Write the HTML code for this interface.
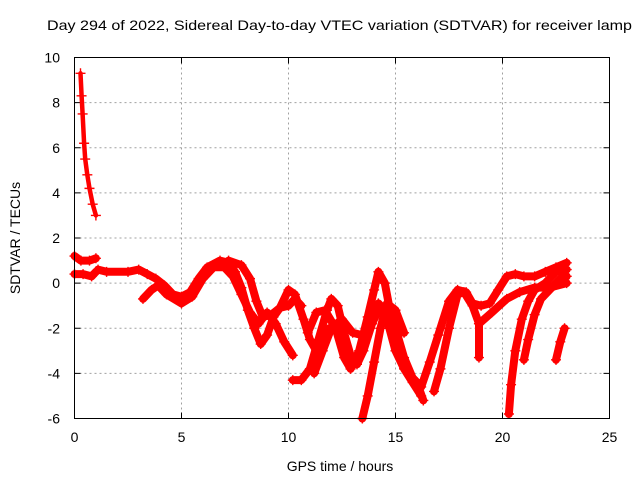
<!DOCTYPE html>
<html><head><meta charset="utf-8"><style>
body{margin:0;background:#fff}
svg{display:block;font-family:"Liberation Sans",sans-serif}
</style></head><body>
<svg id="chart" width="640" height="480">
<rect width="640" height="480" fill="#fff"/>
<text x="47" y="30" font-size="14" textLength="585" lengthAdjust="spacingAndGlyphs">Day 294 of 2022, Sidereal Day-to-day VTEC variation (SDTVAR) for receiver lamp</text>
<g id="grid"></g><g id="ticks"></g><g id="marks"></g>
<rect x="74.5" y="57.5" width="535" height="361" fill="none" stroke="#000" stroke-width="1"/>
<text x="340" y="471" font-size="14" text-anchor="middle">GPS time / hours</text>
<text transform="translate(20,238) rotate(-90)" font-size="14" text-anchor="middle">SDTVAR / TECUs</text>
</svg>
<script>
const xTicks=[0,5,10,15,20,25];
const yTicks=[-6,-4,-2,0,2,4,6,8,10];
const track1=[[0.28,9.3],[0.33,8.3],[0.38,7.5],[0.45,6.2],[0.5,5.5],[0.6,4.8],[0.7,4.2],[0.85,3.5],[1.0,3.0]];
const track2=[[0,1.2],[0.3,1.0],[0.7,1.0],[1.0,1.1]];
const track3=[[0,0.4],[0.4,0.4],[0.8,0.3],[1.0,0.5]];
const track4=[[1.1,0.6],[1.5,0.5],[2.5,0.5],[3.0,0.6],[3.4,0.4],[3.8,0.2],[4.2,-0.1],[4.6,-0.5],[5.0,-0.6],[5.4,-0.4],[5.8,0.2],[6.2,0.7],[6.8,1.0],[7.2,0.9],[7.5,0.5],[7.8,-0.2],[8.1,-1.2],[8.4,-2.0],[8.7,-2.7],[9.0,-2.3],[9.3,-1.5],[9.6,-1.1],[10.0,-1.0],[10.3,-0.7],[10.6,-1.0]];
const track5=[[3.2,-0.7],[3.6,-0.3],[3.9,-0.1],[4.3,-0.5],[5.0,-0.9],[5.5,-0.6],[6.0,0.2],[6.5,0.7],[7.0,0.7],[7.4,0.3],[7.8,-0.5],[8.2,-1.3],[8.6,-1.8],[9.0,-1.3],[9.4,-1.8],[9.8,-2.6],[10.2,-3.2]];
const track6=[[7.2,1.0],[7.8,0.8],[8.2,0.2],[8.5,-0.8],[8.8,-1.5],[9.2,-1.4],[9.6,-1.1],[10.0,-0.3],[10.3,-0.5],[10.7,-1.6],[11.0,-2.5],[11.3,-3.0],[11.6,-2.5],[11.9,-2.0]];
const track7=[[10.2,-4.3],[10.6,-4.3],[11.0,-3.8],[11.4,-2.5],[11.8,-1.2],[12.0,-0.7],[12.3,-1.0],[12.6,-2.2],[12.9,-3.2],[13.2,-3.6],[13.5,-3.0],[13.9,-1.8],[14.2,-0.9],[14.6,-1.3],[15.0,-2.0],[15.4,-3.3],[15.8,-4.2],[16.2,-4.6],[16.6,-3.5],[17.0,-2.3],[17.5,-0.8],[17.9,-0.3],[18.3,-0.4],[18.6,-0.9],[19.0,-1.0],[19.4,-0.9],[19.8,-0.3],[20.2,0.3],[20.6,0.4],[21.0,0.3],[21.5,0.3],[22.0,0.5],[22.5,0.7],[23.0,0.9]];
const track8=[[10.9,-2.2],[11.3,-1.3],[11.7,-1.2],[12.2,-2.0],[12.6,-3.3],[12.9,-3.8],[13.3,-3.0],[13.7,-1.5],[14.0,-0.3],[14.2,0.5],[14.5,0.0],[14.8,-1.5],[15.2,-3.0],[15.6,-4.0],[16.0,-4.4],[16.3,-5.2]];
const track9=[[11.2,-4.0],[11.6,-3.0],[12.0,-2.0],[12.5,-1.6],[13.0,-2.2],[13.4,-2.3],[13.8,-2.0],[14.2,-1.2],[14.6,-1.6],[15.0,-3.0],[15.4,-3.8],[15.8,-4.4],[16.2,-5.0]];
const track10=[[13.45,-6.0],[13.7,-5.0],[14.0,-3.5],[14.3,-2.0],[14.6,-0.9],[15.0,-1.2],[15.4,-2.2]];
const track11=[[16.8,-4.8],[17.1,-3.8],[17.5,-2.0],[17.9,-0.5],[18.2,-0.4],[18.6,-1.0],[18.9,-1.8]];
const track12=[[18.9,-3.3],[18.9,-1.8],[19.5,-1.3],[20.2,-0.7],[20.8,-0.4],[21.5,-0.2],[22.2,-0.2],[23.0,0.0]];
const track13=[[20.3,-5.8],[20.4,-4.5],[20.6,-3.0],[20.9,-1.6],[21.2,-0.8],[21.5,-0.3],[22.0,0.0],[22.5,0.5],[23.0,0.6]];
const track14=[[21.0,-3.4],[21.2,-2.5],[21.5,-1.4],[21.8,-0.7],[22.2,-0.3],[22.7,0.2],[23.0,0.3]];
const track15=[[22.5,-3.4],[22.7,-2.6],[22.9,-2.0]];
const tracks=[track1,track2,track3,track4,track5,track6,track7,track8,track9,track10,track11,track12,track13,track14,track15];

const NS="http://www.w3.org/2000/svg";
const X0=74.5,X1=609.5,Y0=418.5,Y1=57.5;
function xs(v){return X0+(v-0)/(25-0)*(X1-X0);}
function ys(v){return Y0-(v+6)/(16)*(Y0-Y1);}
function mk(tag,attrs,parent){const e=document.createElementNS(NS,tag);for(const k in attrs)e.setAttribute(k,attrs[k]);parent.appendChild(e);return e;}
const grid=document.getElementById('grid'),ticks=document.getElementById('ticks'),marks=document.getElementById('marks');
xTicks.forEach(t=>{
  const x=xs(t);
  if(t>0&&t<25){const g=mk('line',{x1:x,x2:x,y1:Y1,y2:Y0,stroke:'#a0a0a0','stroke-dasharray':'2,3'},grid);
  
  }
  mk('line',{x1:x,x2:x,y1:Y0,y2:Y0-6,stroke:'#000'},ticks);
  mk('line',{x1:x,x2:x,y1:Y1,y2:Y1+6,stroke:'#000'},ticks);
  const l=mk('text',{x:x,y:442,'font-size':14,'text-anchor':'middle'},ticks);
  l.textContent=t;
  
  
});
yTicks.forEach(t=>{
  const y=ys(t);
  if(t>-6&&t<10){const g=mk('line',{x1:X0,x2:X1,y1:y,y2:y,stroke:'#a0a0a0','stroke-dasharray':'2,3'},grid);
  
  }
  mk('line',{x1:X0,x2:X0+6,y1:y,y2:y,stroke:'#000'},ticks);
  mk('line',{x1:X1,x2:X1-6,y1:y,y2:y,stroke:'#000'},ticks);
  const l=mk('text',{x:60,y:y+5,'font-size':14,'text-anchor':'end'},ticks);
  l.textContent=t;
  
  
});
tracks.forEach((tr,i)=>{
  const pts=tr.map(p=>xs(p[0]).toFixed(1)+','+ys(p[1]).toFixed(1)).join(' ');
  const pl=mk('polyline',{points:pts,fill:'none',stroke:'#f00','stroke-width':(i===0?4.5:8),'stroke-linejoin':'round','stroke-linecap':'round'},marks);
  
  
  tr.forEach(p=>{
    const x=xs(p[0]),y=ys(p[1]);
    const m=mk('path',{d:`M${x-5},${y}H${x+5}M${x},${y-5}V${y+5}`,stroke:'#f00','stroke-width':1.4},marks);
    
    
  });
});
</script>
</body></html>
